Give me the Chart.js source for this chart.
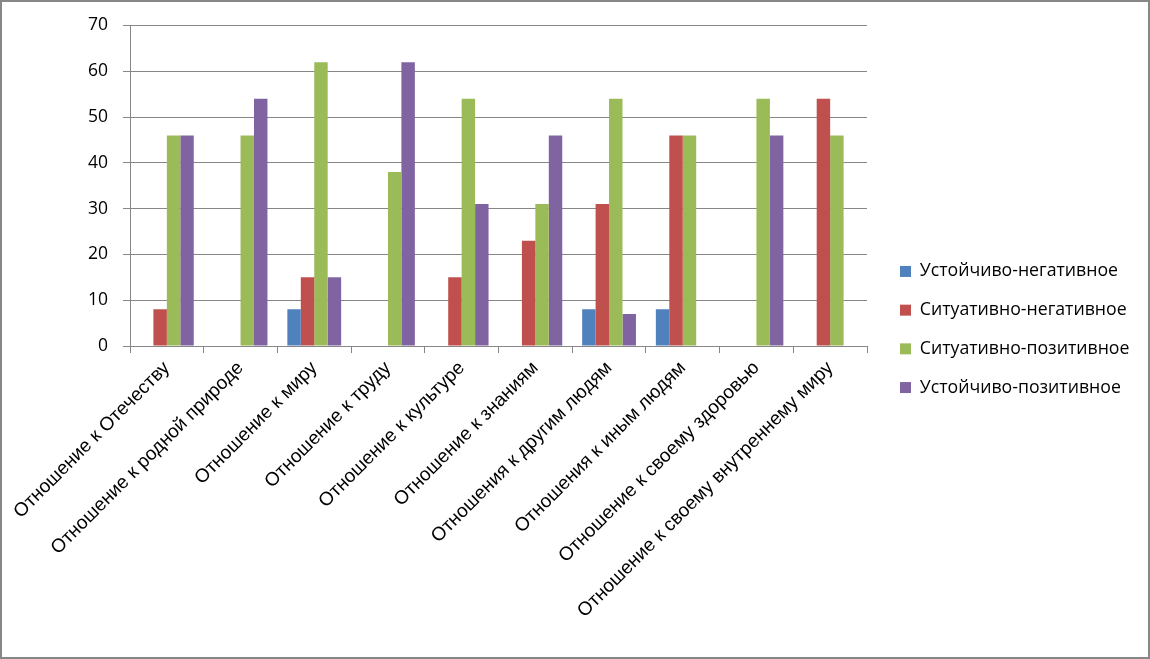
<!DOCTYPE html>
<html lang="ru">
<head>
  <meta charset="UTF-8">
  <title>Отношения</title>
  <script src="https://cdn.jsdelivr.net/npm/chart.js"></script>
  <style>
    body { margin: 0; background: #fff; }
    #chart-container { position: relative; width: 1150px; height: 659px; }
  </style>
</head>
<body>
  <div id="chart-container">
    <canvas id="relChart"></canvas>
  </div>

  <script>
    const categories = [
      "Отношение к Отечеству",
      "Отношение к родной природе",
      "Отношение к миру",
      "Отношение к труду",
      "Отношение к культуре",
      "Отношение к знаниям",
      "Отношения к другим людям",
      "Отношения к иным людям",
      "Отношение к своему здоровью",
      "Отношение к своему внутреннему миру"
    ];
    const seriesNames = ["Устойчиво-негативное", "Ситуативно-негативное", "Ситуативно-позитивное", "Устойчиво-позитивное"];
    const stableNegative    = [0, 0, 8, 0, 0, 0, 8, 8, 0, 0];
    const situationNegative = [8, 0, 15, 0, 15, 23, 31, 46, 0, 54];
    const situationPositive = [46, 46, 62, 38, 54, 31, 54, 46, 54, 46];
    const stablePositive    = [46, 54, 15, 62, 31, 46, 7, 0, 46, 0];
    const yTicks = [0, 10, 20, 30, 40, 50, 60, 70];

    const colors = ["#4F81BD", "#C0504D", "#9BBB59", "#8064A2"];
    const gridColor = "#878787";

    // рамка вокруг всей диаграммы + положение легенды
    const frame = {
      id: "frame",
      afterInit(chart) {
        const lg = chart.legend;
        const fit = lg.fit.bind(lg);
        lg.fit = function () { fit(); this.width = 283; };
      },
      afterLayout(chart) {
        const lg = chart.legend;
        lg.left = 879;
        lg.top -= 12;
        lg.bottom -= 12;
      },
      afterDraw(chart) {
        const c = chart.ctx;
        c.save();
        c.strokeStyle = "#878787";
        c.lineWidth = 2;
        c.strokeRect(1, 1, chart.width - 2, chart.height - 2);
        c.restore();
      }
    };

    const ctx = document.getElementById("relChart").getContext("2d");
    const chart = new Chart(ctx, {
      type: "bar",
      data: {
        labels: categories,
        datasets: [stableNegative, situationNegative, situationPositive, stablePositive].map((d, i) => ({
          label: seriesNames[i],
          data: d,
          backgroundColor: colors[i],
          barPercentage: 1.0,
          categoryPercentage: 0.73
        }))
      },
      options: {
        responsive: true,
        maintainAspectRatio: false,
        animation: false,
        layout: { padding: { top: 24, left: 0, right: 0, bottom: 0 } },
        plugins: {
          tooltip: { enabled: false },
          legend: {
            position: "right",
            labels: {
              boxWidth: 11,
              boxHeight: 11,
              padding: 21,
              color: "#000",
              font: { family: "Open Sans", size: 17.7 }
            }
          }
        },
        scales: {
          x: {
            offset: true,
            grid: { drawOnChartArea: false, drawTicks: true, tickLength: 7, color: gridColor, offset: true },
            border: { color: gridColor },
            ticks: {
              color: "#000",
              minRotation: 45,
              maxRotation: 45,
              autoSkip: false,
              padding: 4,
              font: { family: "Liberation Sans", size: 19 }
            },
            afterFit(s) { s.height = 313; }
          },
          y: {
            min: 0,
            max: 70,
            afterBuildTicks(s) { s.ticks = yTicks.map(v => ({ value: v })); },
            grid: { color: gridColor, tickLength: 7 },
            border: { color: gridColor },
            ticks: {
              color: "#000",
              padding: 15,
              font: { family: "Open Sans", size: 17.5 }
            },
            afterFit(s) { s.width = 130; }
          }
        }
      },
      plugins: [frame]
    });
  </script>
</body>
</html>
